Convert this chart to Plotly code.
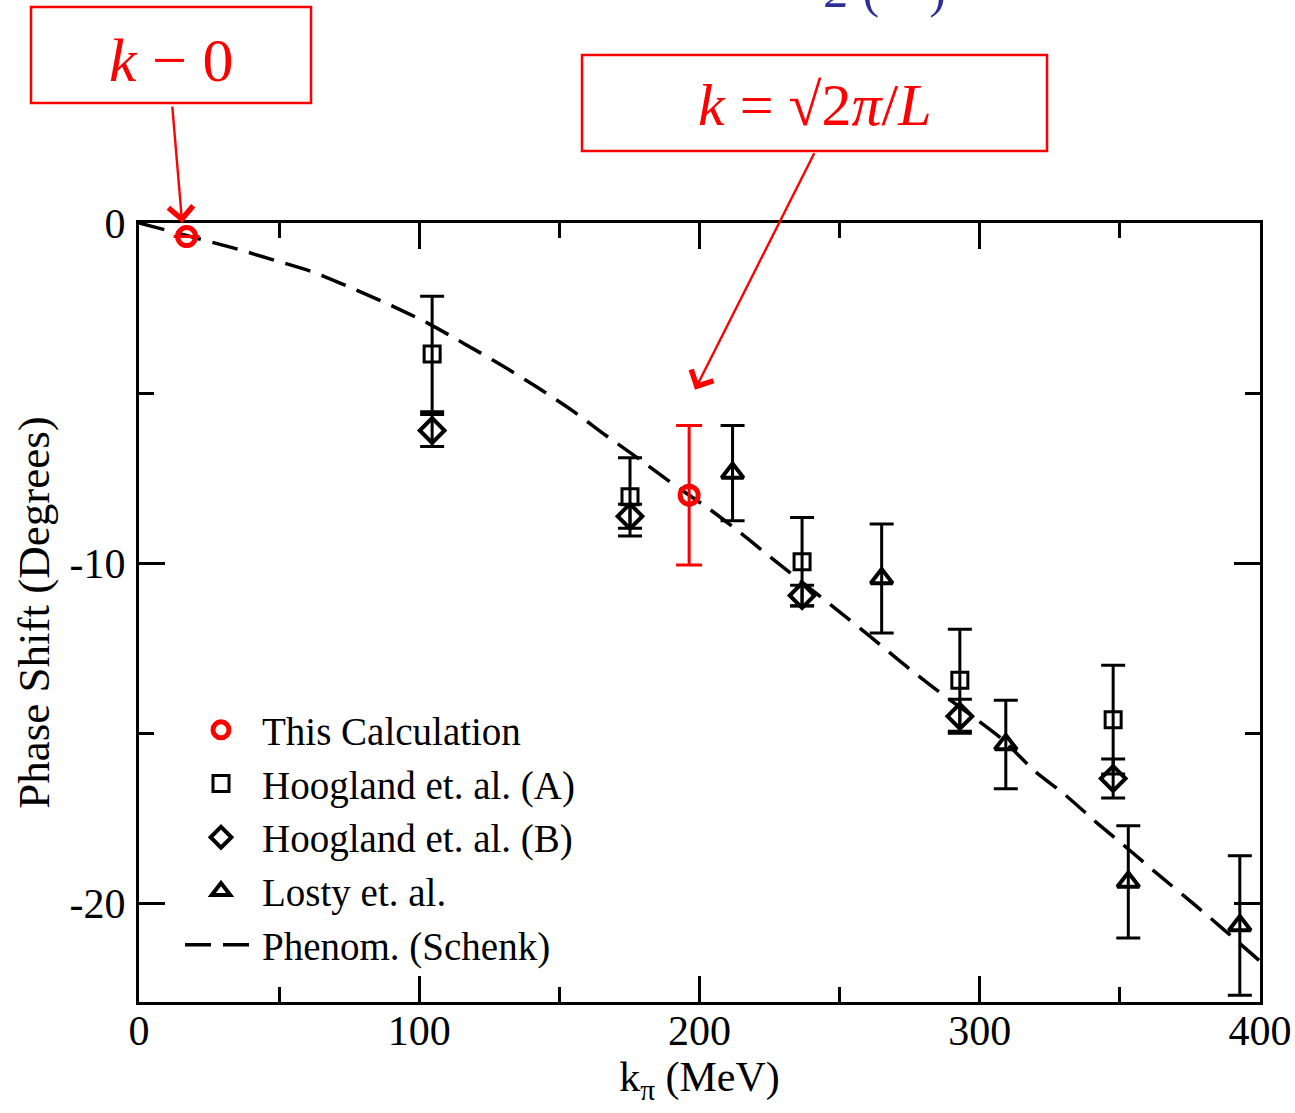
import plotly.graph_objects as go

# ---- data ----
calc_x = [17.0, 196.3]
calc_y = [-0.40, -8.00]
calc_err = [None, 2.05]

hoogA_x = [104.6, 175.2, 236.6, 292.9, 347.6]
hoogA_y = [-3.85, -8.05, -9.96, -13.44, -14.60]
hoogA_err = [1.70, 1.15, 1.30, 1.50, 1.60]

hoogB_x = [104.6, 175.2, 236.6, 292.9, 347.6]
hoogB_y = [-6.10, -8.62, -10.95, -14.50, -16.33]
hoogB_err = [0.47, 0.35, 0.30, 0.50, 0.57]

losty_x = [211.8, 265.0, 309.3, 353.0, 392.8]
losty_y = [-7.35, -10.45, -15.33, -19.37, -20.65]
losty_err = [1.40, 1.60, 1.30, 1.65, 2.05]

schenk_x = [0, 19.4, 33.9, 48.2, 62.4, 76.1, 90.1, 103.2, 115.9, 129.4, 142.1, 154.4,
            166.5, 179, 190.3, 203.7, 215, 226.3, 249.5, 261.4, 273.3, 284.2, 307.8,
            319.3, 330.6, 341.9, 353.5, 364.8, 376.1, 387.5, 400]
schenk_y = [0, -0.42, -0.74, -1.09, -1.45, -1.92, -2.43, -2.95, -3.54, -4.18, -4.83, -5.5,
            -6.24, -6.97, -7.66, -8.42, -9.13, -9.89, -11.4, -12.19, -13.0, -13.7, -15.16,
            -16.09, -16.82, -17.64, -18.44, -19.23, -20.0, -20.8, -21.7]

x_ticks = [0, 100, 200, 300, 400]
y_ticks = [0, -10, -20]

FONT = "Liberation Serif"
RED = "#ff0000"

W, H = 1295, 1113
L, R, T, B = 139, 35, 223, 111
PW, PH = W - L - R, H - T - B


def px(p):
    return (p - L) / PW


def py(p):
    return 1 - (p - T) / PH


fig = go.Figure()

fig.add_trace(go.Scatter(
    x=schenk_x, y=schenk_y, mode="lines", name="Phenom. (Schenk)", legendrank=5,
    line=dict(color="black", width=3.5, dash="26px,12px", shape="spline", smoothing=0.6),
))
fig.add_trace(go.Scatter(
    x=hoogA_x, y=hoogA_y, mode="markers", name="Hoogland et. al. (A)", legendrank=2,
    marker=dict(symbol="square-open", size=16, color="black", line=dict(width=3, color="black")),
    error_y=dict(type="data", array=hoogA_err, color="black", thickness=3, width=12),
))
fig.add_trace(go.Scatter(
    x=hoogB_x, y=hoogB_y, mode="markers", name="Hoogland et. al. (B)", legendrank=3,
    marker=dict(symbol="diamond-open", size=19, color="black", line=dict(width=4, color="black")),
    error_y=dict(type="data", array=hoogB_err, color="black", thickness=3, width=12),
))
fig.add_trace(go.Scatter(
    x=losty_x, y=losty_y, mode="markers", name="Losty et. al.", legendrank=4,
    marker=dict(symbol="triangle-up-open", size=19, color="black", line=dict(width=4, color="black")),
    error_y=dict(type="data", array=losty_err, color="black", thickness=3, width=12),
))
fig.add_trace(go.Scatter(
    x=calc_x, y=calc_y, mode="markers", name="This Calculation", legendrank=1,
    marker=dict(symbol="circle-open", size=18, color=RED, line=dict(width=5, color=RED)),
    error_y=dict(type="data", array=calc_err, color=RED, thickness=3, width=13),
))

axis_common = dict(
    showline=True, linecolor="black", linewidth=3, mirror="allticks",
    ticks="inside", tickcolor="black", tickwidth=3, ticklen=26,
    showgrid=False, zeroline=False,
    tickfont=dict(family=FONT, size=42, color="black"),
)

fig.update_xaxes(
    range=[0, 400], tickvals=x_ticks, ticktext=[str(v) for v in x_ticks],
    minor=dict(dtick=50, ticks="inside", ticklen=15, tickwidth=3, tickcolor="black", showgrid=False),
    title=dict(text="k<sub>π</sub> (MeV)", font=dict(family=FONT, size=42, color="black"), standoff=2),
    ticklabelstandoff=-10,
    **axis_common,
)
fig.update_yaxes(
    range=[-22.9, 0], tickvals=y_ticks, ticktext=[str(v) for v in y_ticks],
    minor=dict(dtick=5, ticks="inside", ticklen=15, tickwidth=3, tickcolor="black", showgrid=False),
    title=dict(text="Phase Shift (Degrees)", font=dict(family=FONT, size=45, color="black"), standoff=6),
    ticklabelstandoff=2,
    **axis_common,
)

shapes = [
    dict(type="rect", xref="paper", yref="paper",
         x0=px(31), x1=px(311), y0=py(103), y1=py(7),
         line=dict(color=RED, width=2.5), fillcolor="white"),
    dict(type="rect", xref="paper", yref="paper",
         x0=px(582), x1=px(1047), y0=py(151), y1=py(55),
         line=dict(color=RED, width=2.5), fillcolor="white"),
]

annotations = [
    dict(xref="paper", yref="paper", x=px(171), y=py(60), xanchor="center", yanchor="middle",
         text="<i>k</i> − 0", showarrow=False,
         font=dict(family=FONT, size=62, color=RED)),
    dict(xref="paper", yref="paper", x=px(815), y=py(105), xanchor="center", yanchor="middle",
         text="<i>k</i> = √2<i>π</i>/<i>L</i>", showarrow=False,
         font=dict(family=FONT, size=60, color=RED)),
    dict(xref="x", yref="y", x=15.4, y=0.0, ax=-10, ay=-118, text="",
         showarrow=True, arrowhead=4, arrowsize=2.0, arrowwidth=2.4, arrowcolor=RED),
    dict(xref="x", yref="y", x=198.4, y=-4.9, ax=120, ay=-238, text="",
         showarrow=True, arrowhead=4, arrowsize=2.0, arrowwidth=2.4, arrowcolor=RED),
    dict(xref="paper", yref="paper", x=px(885), y=py(20), xanchor="center", yanchor="bottom",
         text="<i>2</i> (    )", showarrow=False,
         font=dict(family=FONT, size=50, color="#2e2e96")),
]

fig.update_layout(
    width=W, height=H,
    margin=dict(l=L, r=R, t=T, b=B, autoexpand=False),
    paper_bgcolor="white", plot_bgcolor="white",
    shapes=shapes, annotations=annotations,
    showlegend=True,
    legend=dict(
        x=px(180), y=py(698), xanchor="left", yanchor="top",
        bgcolor="rgba(0,0,0,0)", borderwidth=0,
        font=dict(family=FONT, size=39, color="black"),
        traceorder="normal", itemwidth=72,
    ),
)

fig.write_html("out.html")
